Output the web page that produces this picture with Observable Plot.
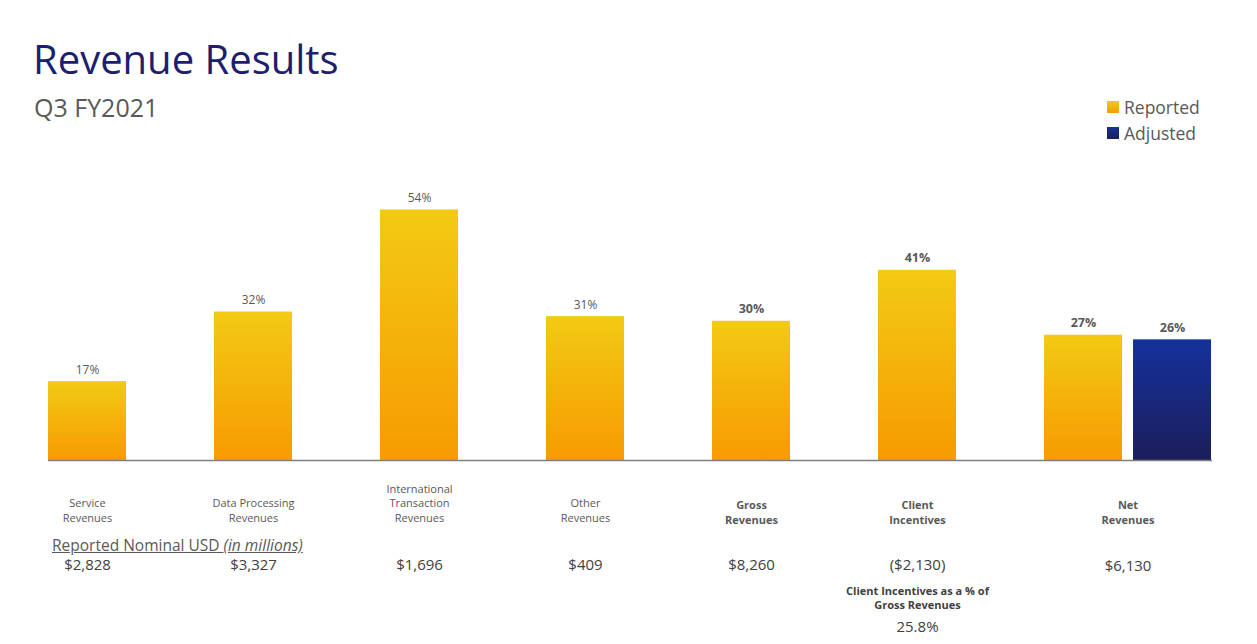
<!DOCTYPE html>
<html>
<head>
<meta charset="utf-8">
<script src="https://cdn.jsdelivr.net/npm/d3@7"></script>
<script src="https://cdn.jsdelivr.net/npm/@observablehq/plot@0.6"></script>
<style>
  body { margin: 0; background: #fff; font-family: "Open Sans", sans-serif; }
  #page { position: relative; width: 1257px; height: 644px; overflow: hidden; background: #fff; }
  #title { position: absolute; left: 33px; top: 39px; font-size: 40px; line-height: 1; color: #1e1e6e; white-space: nowrap; }
  #subtitle { position: absolute; left: 34px; top: 95px; font-size: 25px; line-height: 1; color: #595959; white-space: nowrap; }
  .legend-item { position: absolute; left: 1107px; height: 18px; display: flex; align-items: center; font-size: 17.5px; color: #595959; white-space: nowrap; }
  .legend-item .sw { width: 12px; height: 12px; margin-right: 5px; }
  #usdHeader { position: absolute; left: 52px; top: 536px; font-size: 15.5px; line-height: 18px; color: #595959; text-decoration: underline; white-space: nowrap; }
  #chart { position: absolute; left: 0; top: 150px; }
</style>
</head>
<body>
<div id="page">
  <div id="title"></div>
  <div id="subtitle"></div>
  <div id="legend"></div>
  <div id="usdHeader"></div>
  <div id="chart"></div>
</div>
<script>
// ---- data ----
const titleText = "Revenue Results";
const subtitleText = "Q3 FY2021";
const seriesNames = ["Reported", "Adjusted"];
const categories = [
  "Service Revenues", "Data Processing Revenues", "International Transaction Revenues",
  "Other Revenues", "Gross Revenues", "Client Incentives", "Net Revenues"
];
const categoryLines = [
  "Service\nRevenues", "Data Processing\nRevenues", "International\nTransaction\nRevenues",
  "Other\nRevenues", "Gross\nRevenues", "Client\nIncentives", "Net\nRevenues"
];
const reportedGrowth = [17, 32, 54, 31, 30, 41, 27];
const adjustedCategories = ["Net Revenues"];
const adjustedGrowth = [26];
const nominalUSD = ["$2,828", "$3,327", "$1,696", "$409", "$8,260", "($2,130)", "$6,130"];
const emphasized = ["Gross Revenues", "Client Incentives", "Net Revenues"];
const usdHeaderText = "Reported Nominal USD";
const usdHeaderUnit = "(in millions)";
const noteCategory = "Client Incentives";
const noteTitle = "Client Incentives as a % of\nGross Revenues";
const noteValue = "25.8%";

// ---- header / legend ----
document.getElementById("title").textContent = titleText;
document.getElementById("subtitle").textContent = subtitleText;
const usdH = document.getElementById("usdHeader");
usdH.append(usdHeaderText + " ");
const em = document.createElement("i"); em.textContent = usdHeaderUnit; usdH.append(em);

const gradients = {
  Reported: ["#f2ca14", "#f79b00"],
  Adjusted: ["#14319c", "#1c1e5a"]
};
const legend = document.getElementById("legend");
seriesNames.forEach((s, i) => {
  const item = document.createElement("div");
  item.className = "legend-item";
  item.style.top = (98 + i * 26) + "px";
  const sw = document.createElement("span");
  sw.className = "sw";
  sw.style.background = `linear-gradient(${gradients[s][0]}, ${gradients[s][1]})`;
  item.append(sw, s);
  legend.append(item);
});

// ---- tables ----
const reported = categories.map((c, i) => ({category: c, value: reportedGrowth[i], lines: categoryLines[i], usd: nominalUSD[i], bold: emphasized.includes(c)}));
const adjusted = adjustedCategories.map((c, i) => ({category: c, value: adjustedGrowth[i], bold: emphasized.includes(c)}));

const barGap = 11;
const paddingInner = 0.53;
const step = 1164 / (categories.length - paddingInner + 2 * 0.271);
const bandwidth = step * (1 - paddingInner);
const adjOffset = bandwidth + barGap;
const isPaired = d => adjustedCategories.includes(d.category);

const defs = () => {
  const g = d3.create("svg:defs");
  for (const [k, [top, bottom]] of Object.entries(gradients)) {
    const lg = g.append("linearGradient").attr("id", "grad" + k).attr("x1", 0).attr("y1", 0).attr("x2", 0).attr("y2", 1);
    lg.append("stop").attr("offset", "0%").attr("stop-color", top);
    lg.append("stop").attr("offset", "100%").attr("stop-color", bottom);
  }
  return g.node();
};

const gray = "#595959";
const dark = "#404040";
const chart = Plot.plot({
  width: 1257,
  height: 494,
  marginLeft: 48,
  marginRight: 45,
  marginTop: 31.6,
  marginBottom: 184,
  style: {fontFamily: "'Open Sans', sans-serif", background: "transparent", overflow: "visible"},
  x: {domain: categories, paddingInner, paddingOuter: 0.271, align: 0, axis: null},
  y: {domain: [0, 60], axis: null},
  marks: [
    defs,
    Plot.barY(reported, {x: "category", y: "value", fill: "url(#gradReported)"}),
    Plot.barY(adjusted, {x: "category", y: "value", fill: "url(#gradAdjusted)", dx: adjOffset}),
    Plot.ruleY([0], {stroke: "#7f7f7f", strokeWidth: 1.5}),
    // growth labels
    Plot.text(reported.filter(d => !d.bold), {x: "category", y: "value", text: d => d.value + "%", dy: -8, lineAnchor: "bottom", fontSize: 12, fill: gray}),
    Plot.text(reported.filter(d => d.bold), {x: "category", y: "value", text: d => d.value + "%", dy: -8, lineAnchor: "bottom", fontSize: 12.5, fontWeight: "bold", fill: gray}),
    Plot.text(adjusted, {x: "category", y: "value", text: d => d.value + "%", dy: -8, dx: adjOffset, lineAnchor: "bottom", fontSize: 12.5, fontWeight: "bold", fill: gray}),
    // category labels
    Plot.text(reported.filter(d => !d.bold), {x: "category", y: d => 0, text: "lines", dy: 61.5, lineAnchor: "bottom", lineHeight: 1.32, fontSize: 11, fill: gray}),
    Plot.text(reported.filter(d => d.bold && !isPaired(d)), {x: "category", y: d => 0, text: "lines", dy: 63, lineAnchor: "bottom", lineHeight: 1.32, fontSize: 11, fontWeight: "bold", fill: gray}),
    Plot.text(reported.filter(isPaired), {x: "category", y: d => 0, text: "lines", dx: adjOffset / 2, dy: 63.5, lineAnchor: "bottom", lineHeight: 1.32, fontSize: 11, fontWeight: "bold", fill: gray}),
    // nominal USD
    Plot.text(reported.filter(d => !isPaired(d)), {x: "category", y: d => 0, text: "usd", dy: 105, lineAnchor: "middle", fontSize: 15, fill: dark}),
    Plot.text(reported.filter(isPaired), {x: "category", y: d => 0, text: "usd", dx: adjOffset / 2, dy: 106, lineAnchor: "middle", fontSize: 15, fill: dark}),
    // note under client incentives
    Plot.text([noteTitle], {x: () => noteCategory, y: () => 0, text: d => d, dy: 124, lineAnchor: "top", lineHeight: 1.3, fontSize: 11, fontWeight: "bold", fill: dark}),
    Plot.text([noteValue], {x: () => noteCategory, y: () => 0, text: d => d, dy: 167, lineAnchor: "middle", fontSize: 15, fill: dark})
  ]
});
document.getElementById("chart").append(chart);
</script>
</body>
</html>
